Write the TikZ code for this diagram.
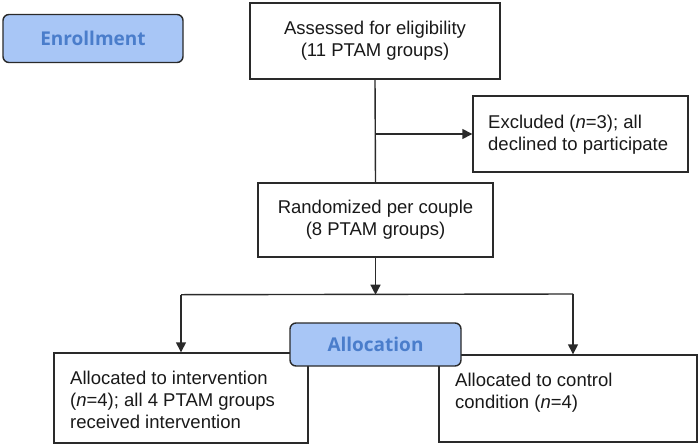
\documentclass[tikz,border=0pt]{standalone}
\usepackage{fontspec}
\setmainfont{Liberation Sans}
\newfontfamily\headfont{Open Sans}
\usetikzlibrary{arrows.meta,calc}
\definecolor{phasefill}{HTML}{A8C6F6}
\definecolor{phasetext}{HTML}{4A7DCB}
\definecolor{linecol}{HTML}{2A2A2A}
\tikzset{
  box/.style={draw=linecol, line width=1.4pt, fill=white, inner sep=0pt},
  phase/.style={draw=linecol, line width=1.4pt, fill=phasefill, rounded corners=6pt, inner sep=0pt,
    font=\headfont\bfseries\fontsize{19}{21}\selectfont, text=phasetext},
  txt/.style={font=\fontsize{18.5}{22}\selectfont, text=black!90, inner sep=0pt},
  conn/.style={draw=linecol, line width=1.4pt},
  arr/.style={conn, -{Triangle[length=10pt,width=10pt]}},
}
\begin{document}
\begin{tikzpicture}[x=1pt,y=-1pt]
\useasboundingbox (0,0) rectangle (700,447);
% boxes
\node[box, minimum width=250pt, minimum height=76pt] (assessed) at (375,41) {};
\node[txt, align=center] (assessedt) at (assessed.center) {Assessed for eligibility\\(11 PTAM groups)};
\node[box, minimum width=215pt, minimum height=76pt] (excluded) at (580.5,134) {};
\node[txt, align=left, anchor=west] (excludedt) at (488,134.5) {Excluded (\textit{n}=3); all\\declined to participate};
\node[box, minimum width=235pt, minimum height=74pt] (random) at (375.5,220) {};
\node[txt, align=center] (randomt) at (random.center) {Randomized per couple\\(8 PTAM groups)};
\node[box, minimum width=254pt, minimum height=90pt] (interv) at (181,398) {};
\node[txt, align=left, anchor=west] (intervt) at (70,400) {Allocated to intervention\\(\textit{n}=4); all 4 PTAM groups\\received intervention};
\node[box, minimum width=258pt, minimum height=87pt] (control) at (568,398.5) {};
\node[txt, align=left, anchor=west] (controlt) at (455,392.5) {Allocated to control\\condition (\textit{n}=4)};
% phase labels
\node[phase, minimum width=180pt, minimum height=48pt] (enroll) at (93,38.5) {Enrollment};
\node[phase, minimum width=171pt, minimum height=43pt] (alloc) at (375.5,344.5) {Allocation};
% connectors
\draw[conn] (assessed.south) -- (random.north);
\draw[arr] (assessed.south |- excluded.west) -- (excluded.west);
\coordinate (split) at ($(random.south)+(0,37)$);
\coordinate (splitL) at (split -| interv.north);
\coordinate (splitR) at (573,294);
\draw[arr] (random.south) -- (split);
\draw[conn] (splitL) -- (splitR);
\draw[arr] (splitL) -- (interv.north);
\draw[arr] (splitR) -- (splitR |- control.north);
\end{tikzpicture}
\end{document}
